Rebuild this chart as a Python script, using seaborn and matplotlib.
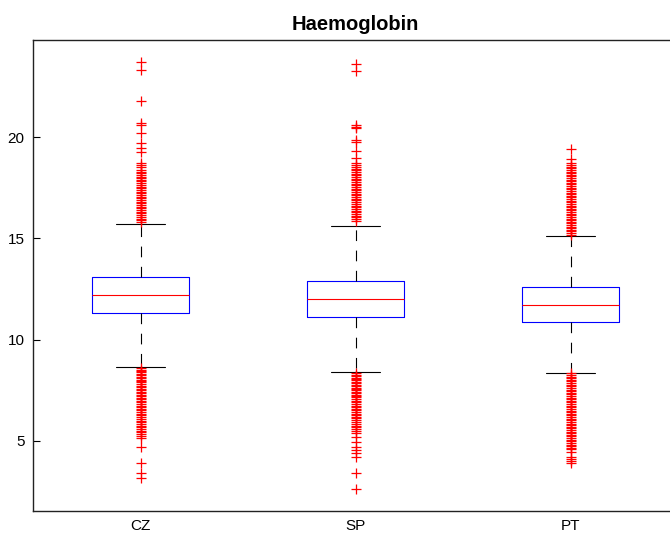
import numpy as np
import pandas as pd
import matplotlib
matplotlib.use("Agg")
import matplotlib.pyplot as plt
import seaborn as sns

# Gruplar
groups = ["CZ", "SP", "PT"]

# Kutu istatistikleri (alt bıyık, Q1, medyan, Q3, üst bıyık)
cz_box = [8.63, 11.29, 12.20, 13.09, 15.72]
sp_box = [8.40, 11.11, 12.02, 12.90, 15.60]
pt_box = [8.36, 10.88, 11.70, 12.59, 15.10]

# Aykırı değerler
cz_hi = [23.72, 23.31, 21.79, 20.68, 20.62, 20.21, 19.69, 19.44, 19.27, 18.72,
         18.60, 18.50, 18.38, 18.30, 18.22, 18.13, 18.05, 17.96, 17.90, 17.81,
         17.72, 17.65, 17.55, 17.47, 17.40, 17.31, 17.22, 17.15, 17.06, 16.98,
         16.90, 16.81, 16.73, 16.65, 16.56, 16.48, 16.40, 16.31, 16.23, 16.15,
         16.06, 15.98, 15.90, 15.83]
cz_lo = [8.58, 8.52, 8.45, 8.38, 8.31, 8.24, 8.17, 8.10, 8.02, 7.95,
         7.88, 7.80, 7.72, 7.65, 7.58, 7.50, 7.42, 7.35, 7.27, 7.20,
         7.12, 7.05, 6.97, 6.90, 6.82, 6.74, 6.66, 6.58, 6.50, 6.42,
         6.33, 6.25, 6.16, 6.08, 6.00, 5.92, 5.83, 5.75, 5.66, 5.58,
         5.50, 5.41, 5.32, 5.22, 5.12, 4.71, 3.89, 3.39, 3.15]
sp_hi = [23.60, 23.27, 20.59, 20.50, 20.44, 19.85, 19.77, 19.31, 18.95, 18.70,
         18.62, 18.53, 18.45, 18.37, 18.28, 18.20, 18.12, 18.03, 17.95, 17.87,
         17.78, 17.70, 17.62, 17.53, 17.45, 17.37, 17.28, 17.20, 17.12, 17.03,
         16.95, 16.87, 16.78, 16.70, 16.62, 16.53, 16.45, 16.37, 16.28, 16.20,
         16.12, 16.03, 15.95, 15.87]
sp_lo = [8.33, 8.26, 8.19, 8.12, 8.05, 7.98, 7.91, 7.84, 7.77, 7.70,
         7.63, 7.56, 7.49, 7.42, 7.35, 7.28, 7.21, 7.14, 7.06, 6.98,
         6.90, 6.82, 6.74, 6.66, 6.58, 6.50, 6.42, 6.34, 6.26, 6.18,
         6.10, 6.02, 5.93, 5.84, 5.75, 5.66, 5.57, 5.47, 5.37, 5.20,
         4.95, 4.71, 4.54, 4.38, 4.21, 3.39, 2.60]
pt_hi = [19.39, 18.90, 18.70, 18.62, 18.54, 18.46, 18.38, 18.30, 18.22, 18.14,
         18.06, 17.98, 17.90, 17.82, 17.74, 17.66, 17.58, 17.50, 17.42, 17.34,
         17.26, 17.18, 17.10, 17.02, 16.94, 16.86, 16.78, 16.70, 16.62, 16.54,
         16.46, 16.38, 16.30, 16.22, 16.14, 16.06, 15.98, 15.90, 15.82, 15.74,
         15.66, 15.58, 15.50, 15.42, 15.34, 15.25, 15.16]
pt_lo = [8.33, 8.25, 8.17, 8.09, 8.01, 7.93, 7.85, 7.77, 7.69, 7.61,
         7.53, 7.45, 7.37, 7.29, 7.21, 7.13, 7.05, 6.97, 6.89, 6.81,
         6.73, 6.65, 6.57, 6.49, 6.41, 6.33, 6.25, 6.17, 6.09, 6.01,
         5.93, 5.85, 5.77, 5.69, 5.61, 5.53, 5.45, 5.37, 5.29, 5.21,
         5.13, 5.05, 4.97, 4.89, 4.81, 4.73, 4.65, 4.57, 4.46, 4.21,
         4.10, 3.98, 3.89]

box_df = pd.DataFrame({
    "grup": ["CZ"] * 5 + ["SP"] * 5 + ["PT"] * 5,
    "deger": cz_box + sp_box + pt_box,
})
out_df = pd.DataFrame({
    "grup": ["CZ"] * len(cz_hi + cz_lo) + ["SP"] * len(sp_hi + sp_lo) + ["PT"] * len(pt_hi + pt_lo),
    "deger": cz_hi + cz_lo + sp_hi + sp_lo + pt_hi + pt_lo,
})

sns.set_style("white")
plt.rcParams["font.family"] = ["Liberation Sans", "DejaVu Sans"]
plt.rcParams["text.color"] = "black"
plt.rcParams["xtick.color"] = "black"
plt.rcParams["ytick.color"] = "black"

fig = plt.figure(figsize=(6.7, 5.33), dpi=100)
ax = fig.add_axes([0.0493, 0.0413, 0.9627, 0.8837])

sns.boxplot(data=box_df, x="grup", y="deger", order=groups, whis=(0, 100),
            width=0.45, fill=False, showfliers=False, linewidth=0.8, ax=ax,
            boxprops={"color": "blue"},
            medianprops={"color": "red"},
            whiskerprops={"color": "black", "linestyle": (0, (9.6, 8.6))},
            capprops={"color": "black"})
sns.stripplot(data=out_df, x="grup", y="deger", order=groups, jitter=False,
              marker="+", color="red", size=7.5, linewidth=0.9, ax=ax)

ax.set_xlim(-0.5, 2.5)
ax.set_ylim(1.53, 24.8)
ax.set_yticks([5, 10, 15, 20])
ax.set_xlabel("")
ax.set_ylabel("")
ax.set_title("Haemoglobin", fontsize=14.5, fontweight="bold", pad=7, color="black")
ax.tick_params(axis="y", left=True, direction="in", length=5, width=0.8,
               labelsize=11, pad=6, colors="black")
ax.tick_params(axis="x", bottom=False, length=0, labelsize=11, pad=6, colors="black")
for s in ax.spines.values():
    s.set_visible(True)
    s.set_color("#222222")
    s.set_linewidth(1.0)

fig.savefig("out.png", dpi=100)
